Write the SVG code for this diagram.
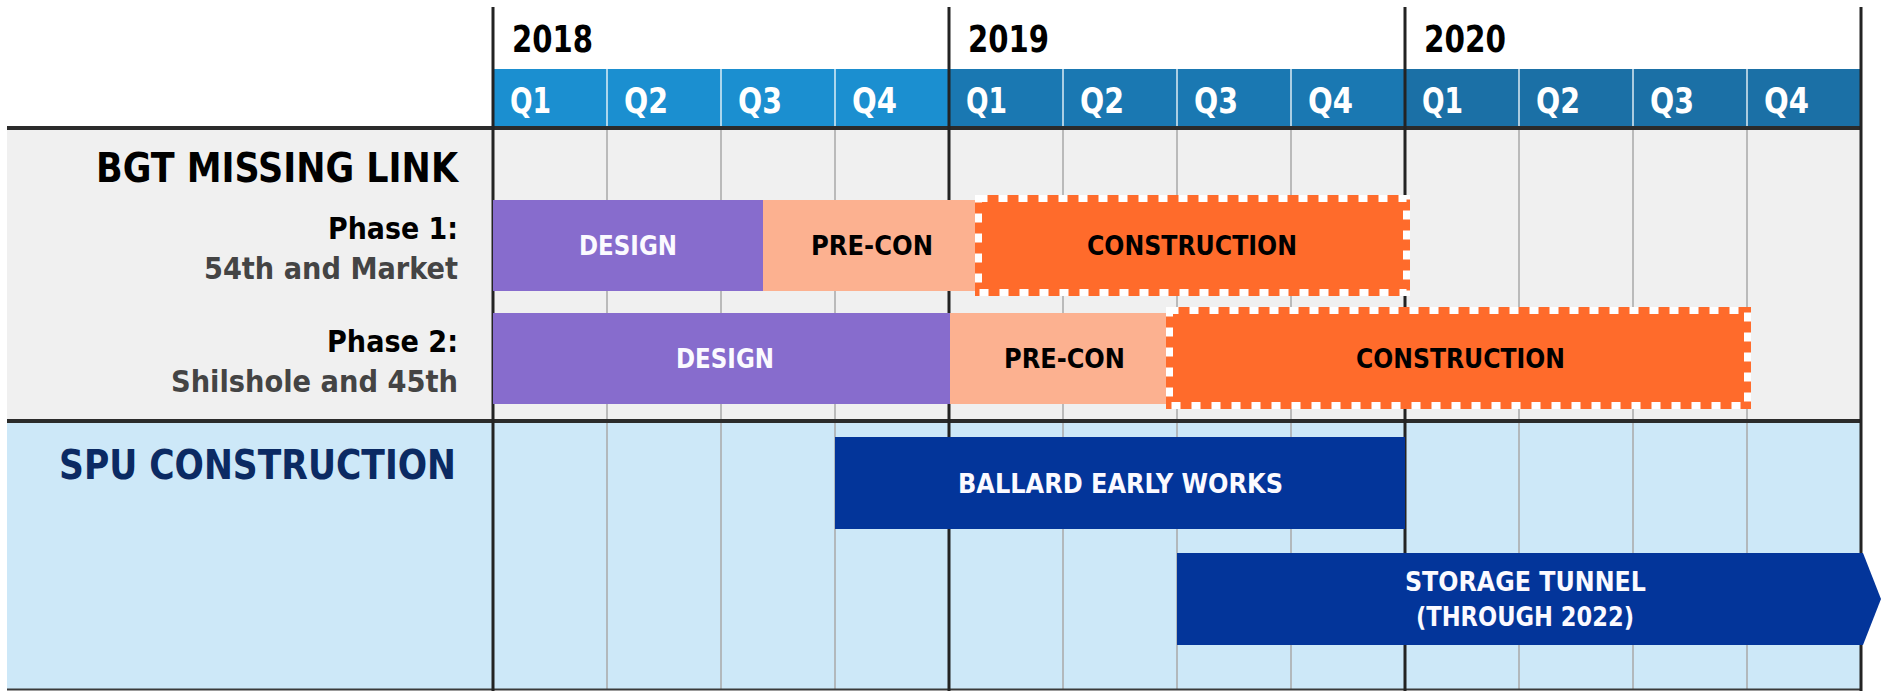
<svg xmlns="http://www.w3.org/2000/svg" width="1881" height="691" viewBox="0 0 1881 691">
<style>
text { font-family: "DejaVu Sans Condensed", "Liberation Sans Narrow", "DejaVu Sans", sans-serif; font-weight: bold; }
.yr { font-size: 37px; fill: #000; }
.q { font-size: 36px; fill: #fff; }
.lbl { font-size: 27px; }
.w { fill: #fbfaff; }
.k { fill: #000; }
.qline { stroke: #a9a9a9; stroke-width: 1.5; }
.hq { stroke: #ffffff; stroke-width: 1.5; opacity: 0.85; }
.yline { stroke: #232323; stroke-width: 3; }
.hline { stroke: #2b2b2b; stroke-width: 4; }
.dash { fill: none; stroke: #ffffff; stroke-width: 7; stroke-dasharray: 9 11; }
.design { fill: #876ccd; }
.precon { fill: #fcb190; }
.constr { fill: #ff6b2b; }
.navy { fill: #03359a; }
</style>

<g id="background">
  <rect x="0" y="0" width="1881" height="691" fill="#ffffff"/>
  <rect x="7" y="128" width="1854" height="293" fill="#f0f0f0"/>
  <rect x="7" y="421" width="1854" height="268" fill="#cde8f8"/>
</g>

<g id="header">
  <rect x="493" y="69" width="456" height="58" fill="#1b8fd0"/>
  <rect x="949" y="69" width="456" height="58" fill="#1a78b2"/>
  <rect x="1405" y="69" width="456" height="58" fill="#1b70a6"/>
  <g class="hq">
    <line x1="607" y1="69" x2="607" y2="127"/>
    <line x1="721" y1="69" x2="721" y2="127"/>
    <line x1="835" y1="69" x2="835" y2="127"/>
    <line x1="1063" y1="69" x2="1063" y2="127"/>
    <line x1="1177" y1="69" x2="1177" y2="127"/>
    <line x1="1291" y1="69" x2="1291" y2="127"/>
    <line x1="1519" y1="69" x2="1519" y2="127"/>
    <line x1="1633" y1="69" x2="1633" y2="127"/>
    <line x1="1747" y1="69" x2="1747" y2="127"/>
  </g>
  <text class="yr" x="512" y="52" textLength="81" lengthAdjust="spacingAndGlyphs">2018</text>
  <text class="yr" x="968" y="52" textLength="81" lengthAdjust="spacingAndGlyphs">2019</text>
  <text class="yr" x="1424" y="52" textLength="82" lengthAdjust="spacingAndGlyphs">2020</text>
  <text class="q" x="510" y="113" textLength="41" lengthAdjust="spacingAndGlyphs">Q1</text>
  <text class="q" x="624" y="113" textLength="44" lengthAdjust="spacingAndGlyphs">Q2</text>
  <text class="q" x="738" y="113" textLength="44" lengthAdjust="spacingAndGlyphs">Q3</text>
  <text class="q" x="852" y="113" textLength="45" lengthAdjust="spacingAndGlyphs">Q4</text>
  <text class="q" x="966" y="113" textLength="41" lengthAdjust="spacingAndGlyphs">Q1</text>
  <text class="q" x="1080" y="113" textLength="44" lengthAdjust="spacingAndGlyphs">Q2</text>
  <text class="q" x="1194" y="113" textLength="44" lengthAdjust="spacingAndGlyphs">Q3</text>
  <text class="q" x="1308" y="113" textLength="45" lengthAdjust="spacingAndGlyphs">Q4</text>
  <text class="q" x="1422" y="113" textLength="41" lengthAdjust="spacingAndGlyphs">Q1</text>
  <text class="q" x="1536" y="113" textLength="44" lengthAdjust="spacingAndGlyphs">Q2</text>
  <text class="q" x="1650" y="113" textLength="44" lengthAdjust="spacingAndGlyphs">Q3</text>
  <text class="q" x="1764" y="113" textLength="45" lengthAdjust="spacingAndGlyphs">Q4</text>
</g>

<g id="grid">
  <g class="qline">
    <line x1="607" y1="128" x2="607" y2="689"/>
    <line x1="721" y1="128" x2="721" y2="689"/>
    <line x1="835" y1="128" x2="835" y2="689"/>
    <line x1="1063" y1="128" x2="1063" y2="689"/>
    <line x1="1177" y1="128" x2="1177" y2="689"/>
    <line x1="1291" y1="128" x2="1291" y2="689"/>
    <line x1="1519" y1="128" x2="1519" y2="689"/>
    <line x1="1633" y1="128" x2="1633" y2="689"/>
    <line x1="1747" y1="128" x2="1747" y2="689"/>
  </g>
  <line class="hline" x1="7" y1="128" x2="1862" y2="128"/>
  <line class="hline" x1="7" y1="421" x2="1862" y2="421"/>
  <line x1="7" y1="689.5" x2="1862" y2="689.5" stroke="#3a3a3a" stroke-width="2"/>
  <g class="yline">
    <line x1="493" y1="7" x2="493" y2="691"/>
    <line x1="949" y1="7" x2="949" y2="691"/>
    <line x1="1405" y1="7" x2="1405" y2="691"/>
    <line x1="1861" y1="7" x2="1861" y2="691"/>
  </g>
</g>

<g id="row-labels">
  <text x="96" y="182" font-size="40" class="k" textLength="362" lengthAdjust="spacingAndGlyphs">BGT MISSING LINK</text>
  <text x="328" y="239" font-size="30" class="k" textLength="130" lengthAdjust="spacingAndGlyphs">Phase 1:</text>
  <text x="204" y="279" font-size="30" fill="#444444" textLength="254" lengthAdjust="spacingAndGlyphs">54th and Market</text>
  <text x="327" y="352" font-size="30" class="k" textLength="131" lengthAdjust="spacingAndGlyphs">Phase 2:</text>
  <text x="171" y="392" font-size="30" fill="#444444" textLength="287" lengthAdjust="spacingAndGlyphs">Shilshole and 45th</text>
  <text x="59" y="479" font-size="41" fill="#0b2a63" textLength="397" lengthAdjust="spacingAndGlyphs">SPU CONSTRUCTION</text>
</g>

<g id="p1-design">
  <rect class="design" x="493" y="200" width="270" height="91"/>
  <text class="lbl w" x="579" y="255" textLength="98" lengthAdjust="spacingAndGlyphs">DESIGN</text>
</g>
<g id="p1-precon">
  <rect class="precon" x="763" y="200" width="215" height="91"/>
  <text class="lbl k" x="811" y="255" textLength="122" lengthAdjust="spacingAndGlyphs">PRE-CON</text>
</g>
<g id="p1-construction">
  <rect class="constr" x="975" y="195" width="435" height="101"/>
  <rect class="dash" x="978.5" y="198.5" width="428" height="94"/>
  <text class="lbl k" x="1087" y="255" textLength="210" lengthAdjust="spacingAndGlyphs">CONSTRUCTION</text>
</g>

<g id="p2-design">
  <rect class="design" x="493" y="313" width="457" height="91"/>
  <text class="lbl w" x="676" y="368" textLength="98" lengthAdjust="spacingAndGlyphs">DESIGN</text>
</g>
<g id="p2-precon">
  <rect class="precon" x="950" y="313" width="219" height="91"/>
  <text class="lbl k" x="1004" y="368" textLength="121" lengthAdjust="spacingAndGlyphs">PRE-CON</text>
</g>
<g id="p2-construction">
  <rect class="constr" x="1166" y="307" width="585" height="102"/>
  <rect class="dash" x="1169.5" y="310.5" width="578" height="95"/>
  <text class="lbl k" x="1356" y="368" textLength="209" lengthAdjust="spacingAndGlyphs">CONSTRUCTION</text>
</g>

<g id="ballard-early-works">
  <rect class="navy" x="835" y="437" width="570" height="92"/>
  <text class="lbl w" x="958" y="493" textLength="325" lengthAdjust="spacingAndGlyphs">BALLARD EARLY WORKS</text>
</g>

<g id="storage-tunnel">
  <polygon class="navy" points="1177,553 1863,553 1881,599 1863,645 1177,645"/>
  <text class="lbl w" x="1405" y="591" textLength="241" lengthAdjust="spacingAndGlyphs">STORAGE TUNNEL</text>
  <text class="lbl w" x="1416" y="626" textLength="218" lengthAdjust="spacingAndGlyphs">(THROUGH 2022)</text>
</g>

<g id="connectors"/>
</svg>
